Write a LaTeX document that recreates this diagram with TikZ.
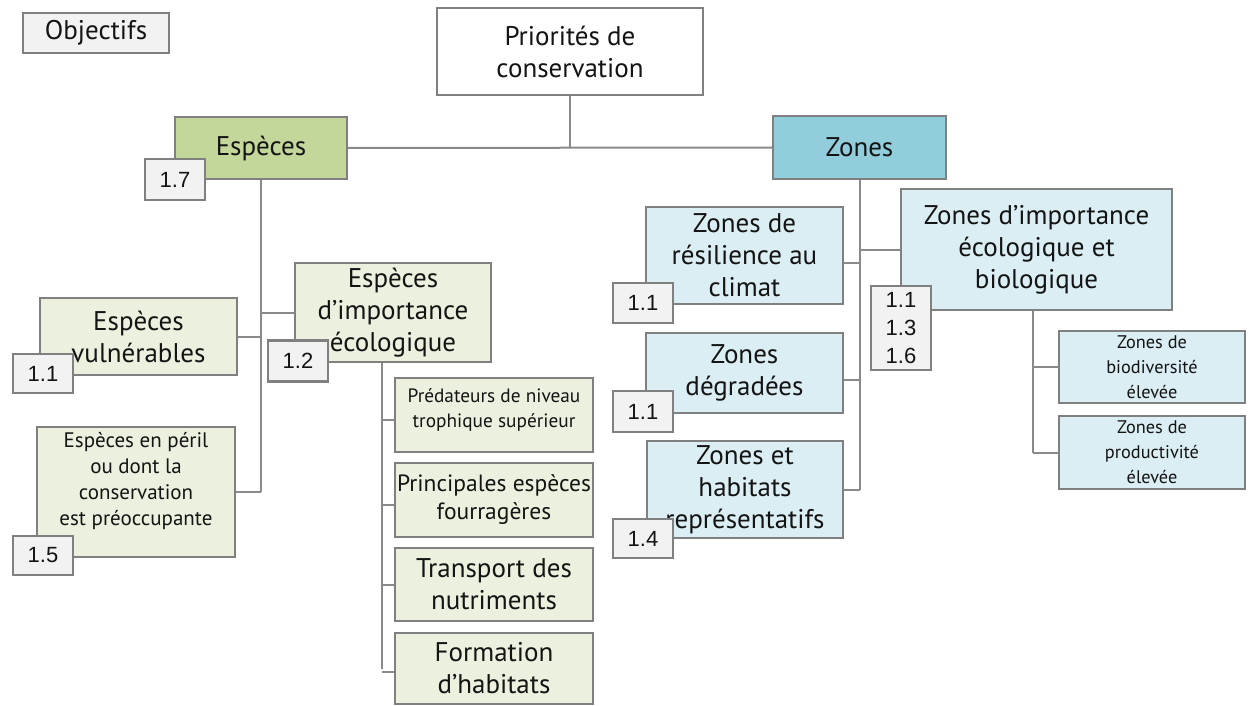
\documentclass[tikz,border=0pt]{standalone}
\usepackage{fontspec}
\setmainfont{PT Sans}
\newfontfamily\numfont{Liberation Sans}
\definecolor{bordergray}{HTML}{808080}
\definecolor{linegray}{HTML}{8A8A8A}
\definecolor{badgegray}{HTML}{F2F2F2}
\definecolor{greendark}{HTML}{C4D79B}
\definecolor{greenlight}{HTML}{EBF1DE}
\definecolor{bluedark}{HTML}{92CDDC}
\definecolor{bluelight}{HTML}{DAEEF3}
\tikzset{
  box/.style={draw=bordergray, line width=2.4pt, inner sep=0pt, align=center, text=black!92},
  badge/.style={box, fill=badgegray, font=\numfont\fontsize{22}{28}\selectfont},
  big/.style={font=\fontsize{27}{32}\selectfont},
  mid/.style={font=\fontsize{23.5}{28}\selectfont},
  perilfont/.style={font=\fontsize{21}{26}\selectfont},
  predfont/.style={font=\fontsize{19.3}{24.5}\selectfont},
  tiny/.style={font=\fontsize{18.3}{25}\selectfont},
  conn/.style={draw=linegray, line width=2pt},
  inlabel/.style={align=center, text=black!92, inner sep=0pt},
}
\begin{document}
\begin{tikzpicture}[x=1pt,y=-1pt]
\useasboundingbox (0,0) rectangle (1248,706);
\node[box, big, fill=badgegray, minimum width=146pt, minimum height=40pt] (obj) at (96,33) {Objectifs};
\node[box, big, fill=white, minimum width=266pt, minimum height=87pt] (prio) at (570,51.5) {Priorités de\\conservation};
\node[box, big, fill=greendark, minimum width=172pt, minimum height=62pt] (espec) at (261,148) {Espèces};
\node[box, big, fill=bluedark, minimum width=173pt, minimum height=63pt] (zones) at (859.5,147.5) {Zones};

\node[box, big, fill=greenlight, minimum width=197pt, minimum height=77pt] (vuln) at (138.5,336.5) {Espèces\\vulnérables};
\node[box, fill=greenlight, minimum width=198pt, minimum height=130pt,
  label={[inlabel, perilfont, yshift=11pt]center:{Espèces en péril\\ou dont la\\conservation\\est préoccupante}}] (peril) at (136,492) {};
\node[box, big, fill=greenlight, minimum width=196pt, minimum height=99pt] (eco) at (393,312.5) {Espèces\\d’importance\\écologique};

\node[box, fill=greenlight, minimum width=198pt, minimum height=74pt,
  label={[inlabel, predfont, yshift=5pt]center:{Prédateurs de niveau\\trophique supérieur}}] (pred) at (494,415) {};
\node[box, mid, fill=greenlight, minimum width=198pt, minimum height=74pt] (princ) at (494,500) {Principales espèces\\fourragères};
\node[box, big, fill=greenlight, minimum width=198pt, minimum height=73pt] (transp) at (494,584.5) {Transport des\\nutriments};
\node[box, big, fill=greenlight, minimum width=198pt, minimum height=71pt] (form) at (494,668.5) {Formation\\d’habitats};

\node[box, big, fill=bluelight, minimum width=197pt, minimum height=97pt] (resil) at (744.5,255.5) {Zones de\\résilience au\\climat};
\node[box, big, fill=bluelight, minimum width=197pt, minimum height=80pt] (degr) at (744.5,373) {Zones\\dégradées};
\node[box, big, fill=bluelight, minimum width=196pt, minimum height=97pt] (habit) at (745,489.5) {Zones et\\habitats\\représentatifs};

\node[box, big, fill=bluelight, minimum width=271pt, minimum height=121pt] (zimp) at (1036.5,249.5) {Zones d’importance\\écologique et\\biologique};
\node[box, tiny, fill=bluelight, minimum width=186pt, minimum height=72pt] (biod) at (1152,367) {Zones de\\biodiversité\\élevée};
\node[box, tiny, fill=bluelight, minimum width=186pt, minimum height=73pt] (prod) at (1152,452.5) {Zones de\\productivité\\élevée};

% connectors
\coordinate (hub) at (prio.south |- espec.east);
\draw[conn] (prio.south) -- (hub);
\draw[conn] (espec.east) -- (zones.west);
\draw[conn] (espec.south) -- (espec.south |- peril.east);
\draw[conn] (vuln.east) -- (vuln.east -| espec.south);
\draw[conn] (peril.east) -- (peril.east -| espec.south);
\draw[conn] (eco.west) -- (eco.west -| espec.south);
\coordinate (ecotop) at ([xshift=-11pt]eco.south);
\draw[conn] (ecotop) -- (ecotop |- form.west);
\draw[conn] ([yshift=-5pt]pred.west) -- ([yshift=-5pt]pred.west -| ecotop);
\draw[conn] ([yshift=-5pt]princ.west) -- ([yshift=-5pt]princ.west -| ecotop);
\draw[conn] (transp.west) -- (transp.west -| ecotop);
\draw[conn] ([yshift=-3pt]form.west) -- ([yshift=-3pt]form.west -| ecotop);
\draw[conn] (zones.south) -- (zones.south |- habit.east);
\draw[conn] ([yshift=-7.5pt]resil.east) -- ([yshift=-7.5pt]resil.east -| zones.south);
\draw[conn] ([yshift=-7pt]degr.east) -- ([yshift=-7pt]degr.east -| zones.south);
\draw[conn] (habit.east) -- (habit.east -| zones.south);
\draw[conn] (zimp.west) -- (zimp.west -| zones.south);
\coordinate (zimptop) at ([xshift=-3.5pt]zimp.south);
\draw[conn] (zimptop) -- (zimptop |- prod.west);
\draw[conn] (biod.west) -- (biod.west -| zimptop);
\draw[conn] (prod.west) -- (prod.west -| zimptop);

% badges
\node[badge, minimum width=60pt, minimum height=41pt] (b17) at (175,179.5) {1.7};
\node[badge, minimum width=60pt, minimum height=39pt] (b11a) at (43,373.5) {1.1};
\node[badge, minimum width=60pt, minimum height=39pt] (b15) at (43,555.5) {1.5};
\node[badge, minimum width=60pt, minimum height=41pt] (b12) at (298,361) {1.2};
\node[badge, minimum width=60pt, minimum height=40pt] (b11b) at (643,303) {1.1};
\node[badge, minimum width=60pt, minimum height=41pt] (b11c) at (643,411.5) {1.1};
\node[badge, minimum width=60pt, minimum height=39pt] (b14) at (643,538.5) {1.4};
\node[badge, minimum width=60pt, minimum height=84pt] (b3) at (901,328) {1.1\\1.3\\1.6};
\end{tikzpicture}
\end{document}
